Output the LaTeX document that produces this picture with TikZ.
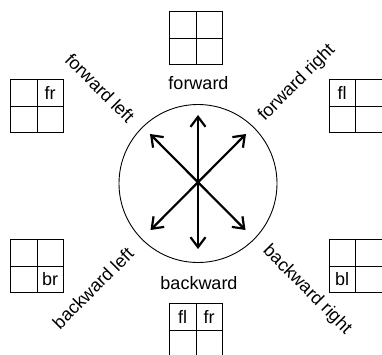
\documentclass[tikz,border=0pt]{standalone}
\usepackage{fontspec}
\setmainfont{Liberation Sans}
\setsansfont{Liberation Sans}
\newfontfamily\arialfont{Liberation Sans}
\usetikzlibrary{arrows.meta}
\tikzset{
  cell/.style={draw, line width=0.9pt, minimum width=26.5pt, minimum height=26.5pt, inner sep=0pt, anchor=north west, font=\arialfont\fontsize{18}{20}\selectfont},
  lbl/.style={font=\arialfont\fontsize{18}{20}\selectfont, inner sep=0pt},
  dir/.style={line width=2.2pt, line cap=butt, {Straight Barb[length=10pt,width=15pt]}-{Straight Barb[length=10pt,width=15pt]}}
}
\newcommand\gridbox[7]{%
  \node[cell] (#1a) at (#2,#3) {#4};
  \node[cell] (#1b) at (#2+26.5,#3) {#5};
  \node[cell] (#1c) at (#2,#3+26.5) {#6};
  \node[cell] (#1d) at (#2+26.5,#3+26.5) {#7};
}
\begin{document}
\begin{tikzpicture}[x=1pt,y=-1pt]
\useasboundingbox (0,0) rectangle (382,354);
\gridbox{top}{169}{11}{}{}{}{}
\gridbox{lt}{10}{79}{}{fr}{}{}
\gridbox{rt}{328.5}{79}{fl}{}{}{}
\gridbox{lb}{10}{239}{}{}{}{br}
\gridbox{rb}{328.5}{239}{}{}{bl}{}
\gridbox{bot}{169}{303}{fl}{fr}{}{}
\node[draw, circle, line width=0.9pt, minimum size=158pt, inner sep=0pt] (ring) at (198,183.5) {};
\coordinate (up) at (198,115);
\coordinate (dn) at (198,249);
\coordinate (ul) at (150,134);
\coordinate (lr) at (245.5,230);
\coordinate (ur) at (246,134);
\coordinate (ll) at (150.5,230);
\draw[dir] (up) -- (dn);
\draw[dir] (ul) -- (lr);
\draw[dir] (ur) -- (ll);
\node[lbl] (fwd) at (198.5,83) {forward};
\node[lbl] (bwd) at (199,283) {backward};
\node[lbl, rotate=-45] (fwl) at (100,88) {forward left};
\node[lbl, rotate=45] (fwr) at (297,83) {forward right};
\node[lbl, rotate=45] (bwl) at (93,288) {backward left};
\node[lbl, rotate=-45] (bwr) at (307,290) {backward right};
\end{tikzpicture}
\end{document}
